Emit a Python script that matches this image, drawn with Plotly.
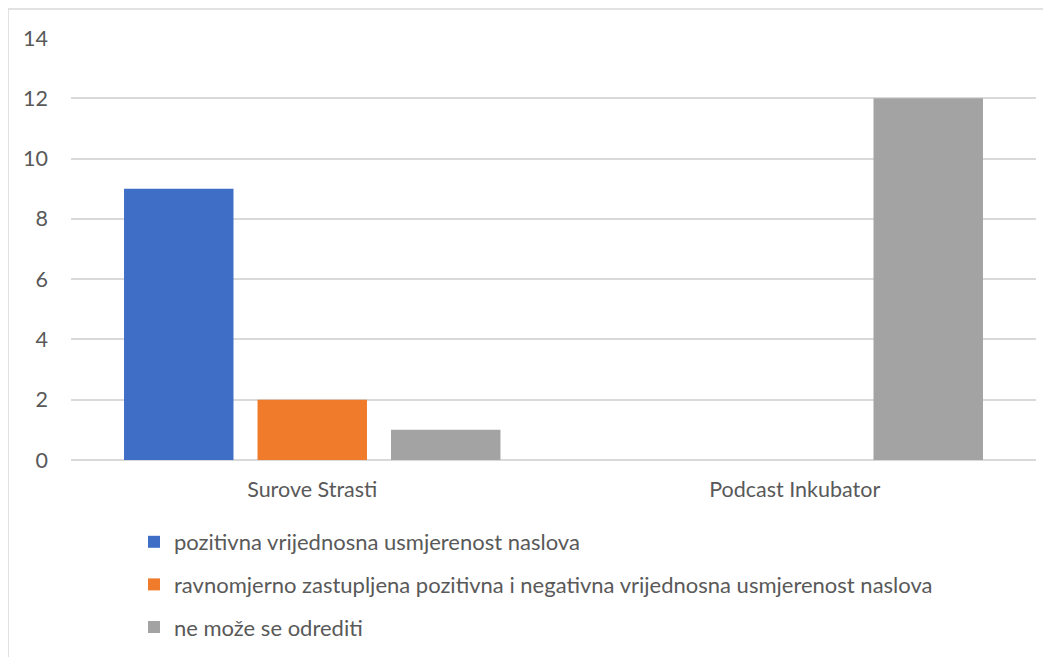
import plotly.graph_objects as go

categories = ["Surove Strasti", "Podcast Inkubator"]
series_names = [
    "pozitivna vrijednosna usmjerenost naslova",
    "ravnomjerno zastupljena pozitivna i negativna vrijednosna usmjerenost naslova",
    "ne može se odrediti",
]
pozitivna = [9, 0]
ravnomjerno = [2, 0]
ne_moze = [1, 12]
colors = ["#3f6ec6", "#f07b2b", "#a3a3a3"]
y_ticks = [0, 2, 4, 6, 8, 10, 12, 14]

FONT = "Lato, 'Open Sans', sans-serif"
TXT = "#595959"
FS = 21.5
FS_LEG = 22

fig = go.Figure()
for i, (name, vals) in enumerate(zip(series_names, [pozitivna, ravnomjerno, ne_moze])):
    fig.add_trace(go.Bar(
        x=categories, y=vals, name=name,
        marker=dict(color=colors[i], line=dict(width=0)),
        legendgroup=f"g{i}",
    ))

# page is offset by 8px; work in figure coordinates
OFF = 8
W, H = 1051, 657
L, T = 71 - OFF, 38 - OFF
R = W - (1036 - OFF)
B = H - (460 - OFF)
pw = W - L - R
ph = H - T - B

def px_x(x):
    return (x - OFF - L) / pw

def px_y(y):
    return (H - B - (y - OFF)) / ph

fig.update_layout(
    width=W, height=H,
    margin=dict(l=L, r=R, t=T, b=B),
    barmode="group",
    bargap=0.17,
    bargroupgap=0.18,
    plot_bgcolor="white",
    paper_bgcolor="white",
    font=dict(family=FONT, size=FS, color=TXT),
    showlegend=True,
    legend=dict(
        orientation="v",
        x=px_x(134), y=px_y(521), xanchor="left", yanchor="top",
        font=dict(family=FONT, size=FS_LEG, color=TXT),
        tracegroupgap=11,
        bgcolor="rgba(0,0,0,0)",
        itemwidth=30,
    ),
    xaxis=dict(
        showgrid=False, showline=False, zeroline=False,
        ticks="", tickfont=dict(size=FS, color=TXT),
        ticklabelstandoff=14,
    ),
    yaxis=dict(
        range=[0, 14], tickvals=y_ticks,
        showgrid=True, gridcolor="#d9d9d9", gridwidth=1.5,
        zeroline=True, zerolinecolor="#d9d9d9", zerolinewidth=1.5,
        showline=False, ticks="",
        tickfont=dict(size=FS, color=TXT),
        ticklabelstandoff=22,
    ),
    shapes=[dict(
        type="rect", xref="paper", yref="paper",
        x0=px_x(8), x1=px_x(1070), y0=px_y(720), y1=px_y(9),
        line=dict(color="#d9d9d9", width=1.5), fillcolor="rgba(0,0,0,0)",
        layer="below",
    )],
)

fig.write_html("out.html")
